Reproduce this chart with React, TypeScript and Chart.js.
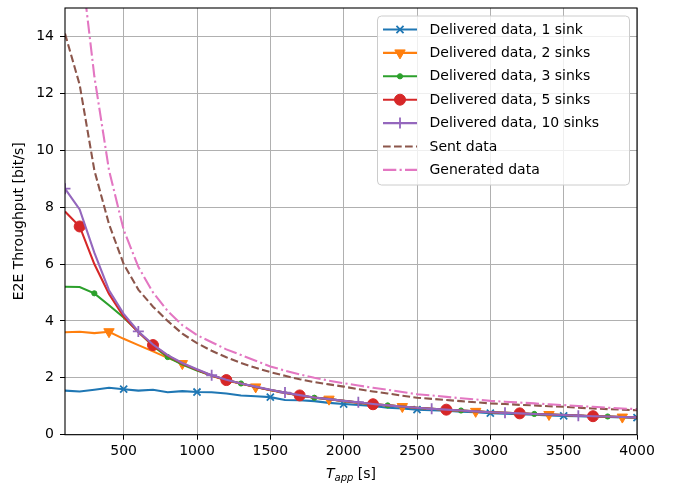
import React, { useEffect, useRef } from 'react';
import { Chart, registerables } from 'chart.js';
import { drawPoint } from 'chart.js/helpers';

Chart.register(...registerables);

const FONT = '"DejaVu Sans", sans-serif';

const tApp = [100, 200, 300, 400, 500, 600, 700, 800, 900, 1000, 1100, 1200, 1300, 1400, 1500, 1600, 1700, 1800, 1900, 2000,
  2100, 2200, 2300, 2400, 2500, 2600, 2700, 2800, 2900, 3000, 3100, 3200, 3300, 3400, 3500, 3600, 3700, 3800, 3900, 4000];

const sink1 = [1.55, 1.52, 1.58, 1.65, 1.60, 1.55, 1.58, 1.49, 1.53, 1.50, 1.49, 1.45, 1.38, 1.35, 1.32, 1.22, 1.21, 1.18, 1.12, 1.08,
  1.05, 1.01, 0.95, 0.92, 0.88, 0.86, 0.84, 0.81, 0.79, 0.76, 0.74, 0.72, 0.70, 0.68, 0.66, 0.65, 0.63, 0.62, 0.61, 0.60];
const sink2 = [3.60, 3.62, 3.57, 3.62, 3.37, 3.15, 2.93, 2.70, 2.50, 2.27, 2.07, 1.91, 1.79, 1.68, 1.56, 1.47, 1.38, 1.30, 1.25, 1.18,
  1.12, 1.07, 1.03, 0.99, 0.94, 0.91, 0.87, 0.84, 0.82, 0.79, 0.77, 0.75, 0.72, 0.71, 0.69, 0.67, 0.65, 0.63, 0.62, 0.61];
const sink3 = [5.20, 5.19, 4.97, 4.55, 4.12, 3.62, 3.12, 2.73, 2.47, 2.26, 2.08, 1.92, 1.80, 1.68, 1.57, 1.48, 1.38, 1.30, 1.25, 1.19,
  1.13, 1.07, 1.03, 0.99, 0.95, 0.91, 0.88, 0.85, 0.82, 0.79, 0.77, 0.75, 0.73, 0.71, 0.69, 0.67, 0.65, 0.64, 0.62, 0.61];
const sink5 = [7.85, 7.32, 6.00, 4.95, 4.15, 3.60, 3.15, 2.78, 2.50, 2.28, 2.08, 1.92, 1.80, 1.68, 1.57, 1.48, 1.38, 1.31, 1.25, 1.19,
  1.13, 1.07, 1.03, 0.99, 0.95, 0.91, 0.88, 0.85, 0.82, 0.79, 0.77, 0.75, 0.73, 0.71, 0.69, 0.67, 0.65, 0.64, 0.62, 0.61];
const sink10 = [8.65, 7.92, 6.40, 5.08, 4.25, 3.63, 3.17, 2.80, 2.52, 2.30, 2.09, 1.93, 1.80, 1.69, 1.58, 1.48, 1.39, 1.31, 1.25, 1.19,
  1.14, 1.08, 1.03, 0.99, 0.95, 0.91, 0.88, 0.85, 0.82, 0.79, 0.77, 0.75, 0.73, 0.71, 0.69, 0.67, 0.65, 0.64, 0.62, 0.61];
const sentData = [14.1, 12.3, 9.3, 7.4, 6.0, 5.1, 4.5, 4.0, 3.55, 3.22, 2.95, 2.72, 2.52, 2.35, 2.2, 2.07, 1.95, 1.85, 1.77, 1.69,
  1.60, 1.52, 1.45, 1.37, 1.30, 1.26, 1.22, 1.18, 1.14, 1.10, 1.08, 1.05, 1.03, 1.00, 0.98, 0.95, 0.92, 0.90, 0.88, 0.86];
const generatedData = [30.0, 17.0, 12.6, 9.3, 7.2, 5.9, 5.0, 4.35, 3.85, 3.5, 3.25, 3.0, 2.8, 2.6, 2.4, 2.25, 2.12, 2.0, 1.9, 1.81,
  1.73, 1.65, 1.58, 1.5, 1.42, 1.38, 1.33, 1.28, 1.24, 1.19, 1.16, 1.13, 1.10, 1.07, 1.04, 1.01, 0.98, 0.95, 0.92, 0.90];

const seriesLabels = [
  'Delivered data, 1 sink',
  'Delivered data, 2 sinks',
  'Delivered data, 3 sinks',
  'Delivered data, 5 sinks',
  'Delivered data, 10 sinks',
  'Sent data',
  'Generated data',
];
const seriesValues = [sink1, sink2, sink3, sink5, sink10, sentData, generatedData];

const xTicks = [500, 1000, 1500, 2000, 2500, 3000, 3500, 4000];
const yTicks = [0, 2, 4, 6, 8, 10, 12, 14];

const styles = [
  { color: '#1f77b4', pointStyle: 'crossRot', radius: 5, rotation: 0, offset: 4, dash: [] as number[], pbw: 1.8 },
  { color: '#ff7f0e', pointStyle: 'triangle', radius: 6, rotation: 180, offset: 3, dash: [] as number[], pbw: 1 },
  { color: '#2ca02c', pointStyle: 'circle', radius: 2.6, rotation: 0, offset: 2, dash: [] as number[], pbw: 1 },
  { color: '#d62728', pointStyle: 'circle', radius: 5.5, rotation: 0, offset: 1, dash: [] as number[], pbw: 1 },
  { color: '#9467bd', pointStyle: 'cross', radius: 5.5, rotation: 0, offset: 0, dash: [] as number[], pbw: 1.8 },
  { color: '#8c564b', pointStyle: false as any, radius: 0, rotation: 0, offset: -1, dash: [7.7, 3.3], pbw: 0 },
  { color: '#e377c2', pointStyle: false as any, radius: 0, rotation: 0, offset: -1, dash: [13.3, 3.3, 2.1, 3.3], pbw: 0 },
];

const decorPlugin = {
  id: 'decor',
  afterDatasetsDraw(chart: any) {
    const { ctx, chartArea: a } = chart;
    ctx.save();
    ctx.strokeStyle = '#000';
    ctx.lineWidth = 1.1;
    ctx.strokeRect(a.left, a.top, a.right - a.left, a.bottom - a.top);
    ctx.restore();
  },
  afterDraw(chart: any) {
    const { ctx, chartArea: a } = chart;
    ctx.save();
    ctx.fillStyle = '#000';
    ctx.textBaseline = 'alphabetic';
    ctx.textAlign = 'left';
    const f1 = `italic 14px ${FONT}`;
    const f2 = `italic 10px ${FONT}`;
    const f3 = `14px ${FONT}`;
    ctx.font = f1; const w1 = ctx.measureText('T').width;
    ctx.font = f2; const w2 = ctx.measureText('app').width;
    ctx.font = f3; const w3 = ctx.measureText(' [s]').width;
    const cx = (a.left + a.right) / 2;
    let x = cx - (w1 + w2 + w3) / 2;
    const base = 478;
    ctx.font = f1; ctx.fillText('T', x, base); x += w1;
    ctx.font = f2; ctx.fillText('app', x, base + 3); x += w2;
    ctx.font = f3; ctx.fillText(' [s]', x, base);
    ctx.save();
    ctx.translate(19, (a.top + a.bottom) / 2);
    ctx.rotate(-Math.PI / 2);
    ctx.textAlign = 'center';
    ctx.textBaseline = 'middle';
    ctx.font = `14px ${FONT}`;
    ctx.fillText('E2E Throughput [bit/s]', 0, 0);
    ctx.restore();

    const bx = 377.5, by = 16, bw = 252, bh = 169, r = 4;
    ctx.beginPath();
    ctx.moveTo(bx + r, by);
    ctx.lineTo(bx + bw - r, by);
    ctx.quadraticCurveTo(bx + bw, by, bx + bw, by + r);
    ctx.lineTo(bx + bw, by + bh - r);
    ctx.quadraticCurveTo(bx + bw, by + bh, bx + bw - r, by + bh);
    ctx.lineTo(bx + r, by + bh);
    ctx.quadraticCurveTo(bx, by + bh, bx, by + bh - r);
    ctx.lineTo(bx, by + r);
    ctx.quadraticCurveTo(bx, by, bx + r, by);
    ctx.closePath();
    ctx.fillStyle = 'rgba(255,255,255,0.8)';
    ctx.fill();
    ctx.strokeStyle = '#cccccc';
    ctx.lineWidth = 1;
    ctx.stroke();

    seriesLabels.forEach((label, i) => {
      const s = styles[i];
      const y = 29.5 + i * 23.4;
      ctx.save();
      ctx.strokeStyle = s.color;
      ctx.lineWidth = 2.1;
      ctx.setLineDash(s.dash);
      ctx.beginPath();
      ctx.moveTo(383, y);
      ctx.lineTo(417, y);
      ctx.stroke();
      ctx.setLineDash([]);
      if (s.pointStyle) {
        ctx.fillStyle = s.color;
        ctx.strokeStyle = s.color;
        ctx.lineWidth = s.pbw;
        drawPoint(ctx, { pointStyle: s.pointStyle, rotation: s.rotation, radius: s.radius, borderWidth: s.pbw } as any, 400, y);
      }
      ctx.restore();
      ctx.fillStyle = '#000';
      ctx.font = `14px ${FONT}`;
      ctx.textAlign = 'left';
      ctx.textBaseline = 'middle';
      ctx.fillText(label, 429.5, y + 0.5);
    });
    ctx.restore();
  },
};

export default function App() {
  const ref = useRef<HTMLCanvasElement>(null);
  useEffect(() => {
    if (!ref.current) return;
    const n = seriesLabels.length;
    const datasets = seriesLabels.map((label, i) => {
      const s = styles[i];
      return {
        label,
        data: tApp.map((t, k) => ({ x: t, y: seriesValues[i][k] })),
        borderColor: s.color,
        backgroundColor: s.color,
        borderWidth: 2.1,
        borderDash: s.dash,
        pointStyle: s.pointStyle,
        pointRotation: s.rotation,
        pointRadius: (c: any) => (s.offset >= 0 && c.dataIndex % 5 === s.offset ? s.radius : 0),
        pointHoverRadius: 0,
        pointBorderWidth: s.pbw,
        pointBackgroundColor: s.color,
        pointBorderColor: s.color,
        tension: 0,
        fill: false,
        order: n - 1 - i,
      };
    });
    const chart = new Chart(ref.current, {
      type: 'line',
      data: { datasets: datasets as any },
      options: {
        animation: false,
        responsive: false,
        events: [],
        layout: { padding: { left: 0, top: 8, right: 36, bottom: 0 } },
        plugins: { legend: { display: false }, tooltip: { enabled: false } },
        scales: {
          x: {
            type: 'linear',
            min: 100,
            max: 4000,
            afterBuildTicks: (sc: any) => { sc.ticks = xTicks.map((v) => ({ value: v })); },
            afterFit: (sc: any) => { sc.height = 50.3; sc.paddingLeft = 0; sc.paddingRight = 0; },
            ticks: {
              color: '#000',
              font: { family: FONT, size: 14 },
              padding: 3,
              maxRotation: 0,
              autoSkip: false,
              callback: (v: any) => String(v),
            },
            grid: { color: '#b0b0b0', lineWidth: 1, tickColor: '#000', tickLength: 5 },
            border: { display: false },
          },
          y: {
            type: 'linear',
            min: 0,
            max: 15,
            afterBuildTicks: (sc: any) => { sc.ticks = yTicks.map((v) => ({ value: v })); },
            afterFit: (sc: any) => { sc.width = 65; sc.paddingTop = 0; sc.paddingBottom = 0; },
            ticks: {
              color: '#000',
              font: { family: FONT, size: 14 },
              padding: 6,
              autoSkip: false,
              callback: (v: any) => String(v),
            },
            grid: { color: '#b0b0b0', lineWidth: 1, tickColor: '#000', tickLength: 5 },
            border: { display: false },
          },
        },
      },
      plugins: [decorPlugin],
    });
    return () => chart.destroy();
  }, []);
  return (
    <div style={{ position: 'absolute', left: 0, top: 0, width: 673, height: 485 }}>
      <canvas ref={ref} width={673} height={485} style={{ display: 'block' }} />
    </div>
  );
}
